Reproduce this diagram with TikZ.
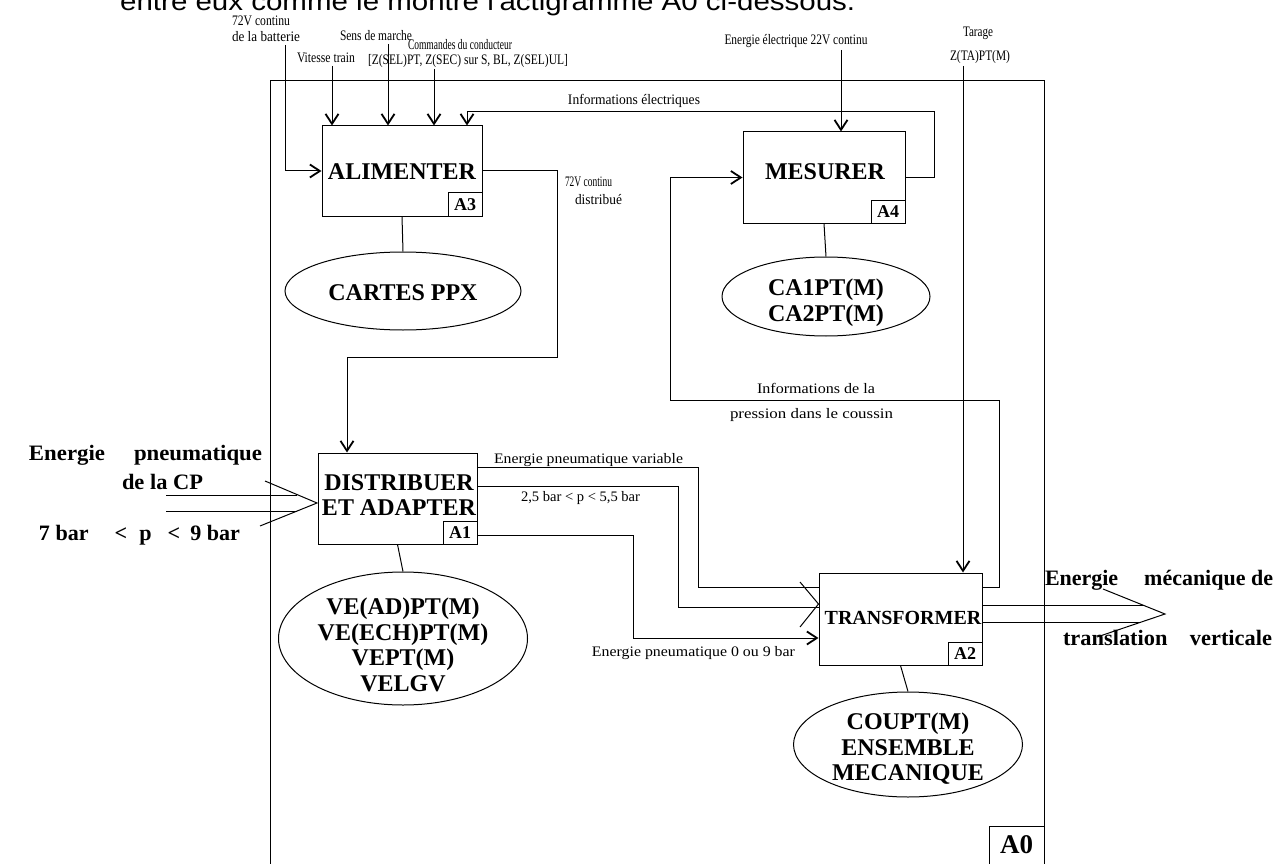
\documentclass[tikz,border=0pt]{standalone}
\usepackage{fontspec}
\setmainfont{Liberation Serif}
\newfontfamily\sansf{Liberation Sans}
\usepackage{graphicx}
\usetikzlibrary{arrows.meta,shapes.geometric,calc}

% squeeze or stretch a text horizontally to a given width (in pt)
\newcommand{\fitx}[2]{\resizebox{#1pt}{\height}{#2}}

\tikzset{
  flow/.style={line width=1pt},
  arr/.style={flow,-{Straight Barb[length=10pt,width=13pt,line width=1.8pt]}},
  fbox/.style={draw,line width=1pt,rectangle,inner sep=0pt},
  numbox/.style={draw,line width=1pt,rectangle,inner sep=0pt,minimum width=34pt,minimum height=23pt,
    font=\fontsize{18}{20}\selectfont\bfseries},
  mech/.style={draw,line width=1pt,ellipse,inner sep=0pt},
  big/.style={inner sep=0pt,align=center,font=\fontsize{24}{25.5}\selectfont\bfseries},
  side/.style={inner sep=0pt,align=center,font=\fontsize{22}{24}\selectfont\bfseries},
  lbl/.style={inner sep=0pt,font=\fontsize{14.5}{16}\selectfont},
}

\begin{document}
\begin{tikzpicture}[x=1pt,y=-1pt]
\useasboundingbox (0,0) rectangle (1283,864);
\fill[white] (0,0) rectangle (1283,864);

% line of running text above the actigram
\node[inner sep=0pt,anchor=base west,font=\sansf\fontsize{26}{30}\selectfont] (intro) at (120,11)
  {\fitx{735}{entre eux comme le montre l'actigramme A0 ci-dessous.}};

% A0 frame
\draw[flow] (270,864) -- (270,81) -- (1044,81) -- (1044,864);
\node[fbox,minimum width=55pt,minimum height=38pt,font=\fontsize{27}{30}\selectfont\bfseries] (a0) at (1016.5,845) {A0};

% activity boxes
\node[fbox,minimum width=160pt,minimum height=90pt] (alim) at (402,171) {};
\node[fbox,minimum width=162pt,minimum height=91pt] (mes) at (824,177.5) {};
\node[fbox,minimum width=159pt,minimum height=91pt] (dist) at (397.5,498.5) {};
\node[fbox,minimum width=163pt,minimum height=92pt] (trans) at (900.5,619) {};

\node[big] (alimT) at (402,172) {ALIMENTER};
\node[big] (mesT) at (825,172) {MESURER};
\node[big] (distT) at (399,495) {DISTRIBUER\\ET ADAPTER};
\node[big,font=\fontsize{20}{22}\selectfont\bfseries] (transT) at (903,618) {TRANSFORMER};

\node[numbox,anchor=south east] (a3) at (alim.south east) {A3};
\node[numbox,anchor=south east] (a4) at (mes.south east) {A4};
\node[numbox,anchor=south east] (a1) at (dist.south east) {A1};
\node[numbox,anchor=south east] (a2) at (trans.south east) {A2};

% supports
\node[mech,minimum width=236pt,minimum height=78pt] (cartes) at (403,291) {};
\node[mech,minimum width=208pt,minimum height=79pt] (ca) at (826,296.5) {};
\node[mech,minimum width=249pt,minimum height=133pt] (ve) at (403,638.5) {};
\node[mech,minimum width=229pt,minimum height=105pt] (cou) at (908,744.5) {};

\node[big] (cartesT) at (403,293) {CARTES PPX};
\node[big] (caT) at (826,302.5) {CA1PT(M)\\CA2PT(M)};
\node[big] (veT) at (403,645) {VE(AD)PT(M)\\VE(ECH)PT(M)\\VEPT(M)\\VELGV};
\node[big] (couT) at (908,749) {COUPT(M)\\ENSEMBLE\\MECANIQUE};

\draw[flow] (alim.south) -- (cartes.north);
\draw[flow] (mes.south) -- (ca.north);
\draw[flow] (dist.south) -- (ve.north);
\draw[flow] (trans.south) -- (cou.north);

% controls and inputs of ALIMENTER
\node[lbl] (t72a) at (261,21) {\fitx{58}{72V continu}};
\node[lbl] (t72b) at (266,37) {\fitx{68}{de la batterie}};
\node[lbl] (tsens) at (376,36) {\fitx{72}{Sens de marche}};
\node[lbl] (tvit) at (326,58) {\fitx{58}{Vitesse train}};
\node[lbl] (tcmd) at (460,45) {\fitx{104}{Commandes du conducteur}};
\node[lbl] (tcmdb) at (468,61.5) {\fitx{200}{[Z(SEL)PT, Z(SEC) sur S, BL, Z(SEL)UL]}};

\coordinate (bat) at (285,45);
\coordinate (vit) at (332,66);
\coordinate (sens) at (388,44);
\coordinate (cmd) at (434,69);
\draw[arr] (bat) |- (alim.west);
\draw[arr] (vit) -- (vit |- alim.north);
\draw[arr] (sens) -- (sens |- alim.north);
\draw[arr] (cmd) -- (cmd |- alim.north);

% electrical information loop
\coordinate (infoTop) at (467,112);
\draw[arr] (mes.east) -- ++(29,0) |- (infoTop) -- (infoTop |- alim.north);
\node[lbl] (tinfo) at (634,101) {\fitx{132}{Informations électriques}};

% 22V supply of MESURER
\node[lbl] (t22) at (796,41) {\fitx{143}{Energie électrique 22V continu}};
\coordinate (e22) at (841,50);
\draw[arr] (e22) -- (e22 |- mes.north);

% setting of TRANSFORMER
\node[lbl] (ttar) at (978,33) {\fitx{30}{Tarage}};
\node[lbl] (tz) at (980,57) {\fitx{60}{Z(TA)PT(M)}};
\coordinate (tar) at (963,66);
\draw[arr] (tar) -- (tar |- trans.north);

% distributed 72V
\coordinate (dv) at (557,357);
\draw[arr] (alim.east) -| (dv) -| ($(dist.north)+(-50.5,0)$);
\node[lbl] (tdv1) at (588.5,182) {\fitx{47}{72V continu}};
\node[lbl] (tdv2) at (598.5,200) {\fitx{47}{distribué}};

% pressure information
\coordinate (pr1) at (999,400);
\coordinate (pr2) at (670,400);
\draw[arr] ($(trans.east)+(0,-32)$) -| (pr1) -- (pr2) -- (pr2 |- mes.west) -- (mes.west);
\node[lbl] (tpr1) at (816,388) {\fitx{118}{Informations de la}};
\node[lbl] (tpr2) at (811.5,415) {\fitx{163}{pression dans le coussin}};

% pneumatic energy supply
\node[side] (tcp1) at (145.5,455) {\fitx{233}{Energie\hspace{28pt}pneumatique}};
\node[side] (tcp2) at (162.5,482) {\fitx{81}{de la CP}};
\node[side] (tcp3) at (139.5,535) {\fitx{201}{7 bar\hspace{26pt}<\hspace{12pt}p\hspace{16pt}<\hspace{10pt}9 bar}};
\coordinate (cpA) at (166,495);
\coordinate (cpB) at (166,511);
\coordinate (cpTip) at (317,503);
\draw[flow] (cpA) -- (297,495);
\draw[flow] (cpB) -- (296.5,511);
\draw[flow] (265,481) -- (cpTip) -- (260,526);

% pneumatic energy towards TRANSFORMER
\coordinate (k1) at (698,587);
\coordinate (k2) at (678,607);
\coordinate (k3) at (633,638);
\draw[flow] ($(dist.north east)+(0,15)$) -| (k1) -- (k1 -| trans.west);
\draw[flow] ($(dist.north east)+(0,34)$) -| (k2) -- (k2 -| trans.west);
\draw[flow] (800,582) -- ($(trans.west)+(0,-15)$) -- (800,627);
\draw[arr] ($(dist.south east)+(0,-9)$) -| (k3) -- (k3 -| trans.west);
\node[lbl] (tv1) at (588.5,460) {\fitx{189}{Energie pneumatique variable}};
\node[lbl] (tv2) at (580.5,498) {\fitx{119}{2,5 bar < p < 5,5 bar}};
\node[lbl] (tv3) at (693.5,653) {\fitx{203}{Energie pneumatique 0 ou 9 bar}};

% mechanical energy output
\coordinate (meA) at (1143,605);
\coordinate (meB) at (1141,622);
\coordinate (meTip) at (1165,614);
\draw[flow] ($(trans.east)+(0,-14)$) -- (meA);
\draw[flow] ($(trans.east)+(0,3)$) -- (meB);
\draw[flow] (1103,589) -- (meTip) -- (1097,637);
\node[side] (tme1) at (1159,580) {\fitx{228}{Energie\hspace{26pt}mécanique de}};
\node[side] (tme2) at (1167.5,638) {\fitx{209}{translation\hspace{22pt}verticale}};
\end{tikzpicture}
\end{document}
